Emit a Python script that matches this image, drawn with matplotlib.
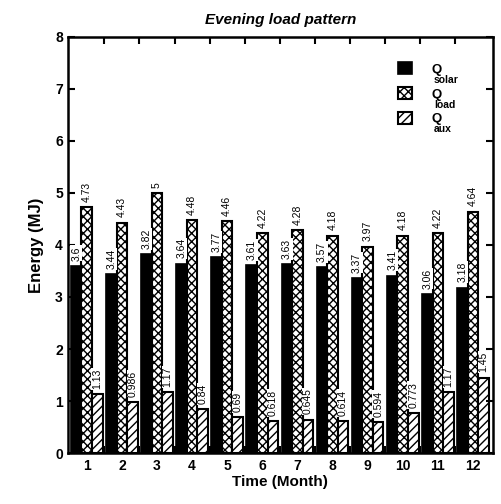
import matplotlib
matplotlib.use("Agg")
import matplotlib.pyplot as plt
import numpy as np

months = [1, 2, 3, 4, 5, 6, 7, 8, 9, 10, 11, 12]
q_solar = [3.6, 3.44, 3.82, 3.64, 3.77, 3.61, 3.63, 3.57, 3.37, 3.41, 3.06, 3.18]
q_load = [4.73, 4.43, 5, 4.48, 4.46, 4.22, 4.28, 4.18, 3.97, 4.18, 4.22, 4.64]
q_aux = [1.13, 0.986, 1.17, 0.84, 0.69, 0.618, 0.645, 0.614, 0.594, 0.773, 1.17, 1.45]
solar_lbl = ["3.6", "3.44", "3.82", "3.64", "3.77", "3.61", "3.63", "3.57", "3.37", "3.41", "3.06", "3.18"]
load_lbl = ["4.73", "4.43", "5", "4.48", "4.46", "4.22", "4.28", "4.18", "3.97", "4.18", "4.22", "4.64"]
aux_lbl = ["1.13", "0.986", "1.17", "0.84", "0.69", "0.618", "0.645", "0.614", "0.594", "0.773", "1.17", "1.45"]
series_subs = ["solar", "load", "aux"]

plt.rcParams['font.family'] = ['Liberation Sans', 'DejaVu Sans']
plt.rcParams['hatch.linewidth'] = 1.0

fig = plt.figure(figsize=(5.02, 5.04), dpi=100)
ax = fig.add_axes([0.135, 0.101, 0.847, 0.826])

x = np.array(months, dtype=float)
w = 0.3
b1 = ax.bar(x - w, q_solar, w, color='black', edgecolor='black', linewidth=1.2, label='Q')
b2 = ax.bar(x, q_load, w, color='white', edgecolor='black', hatch='xxxx', linewidth=1.5, label='Q')
b3 = ax.bar(x + w, q_aux, w, color='white', edgecolor='black', hatch='////', linewidth=1.5, label='Q')

for bars, lbls in [(b1, solar_lbl), (b2, load_lbl), (b3, aux_lbl)]:
    for r, t in zip(bars, lbls):
        ax.text(r.get_x() + r.get_width() / 2, r.get_height() + 0.1, t, rotation=90,
                ha='center', va='bottom', fontsize=7.5,
                bbox=dict(facecolor='white', edgecolor='none', pad=0.6))

ax.set_xlim(0.46, 12.57)
ax.set_ylim(0, 8)
ax.set_xticks(months)
ax.set_xticklabels([str(m) for m in months], fontweight='bold', fontsize=10)
ax.set_yticks(range(0, 9))
ax.set_yticklabels([str(v) for v in range(0, 9)], fontweight='bold', fontsize=10)
ax.tick_params(axis='x', length=0, pad=4)
ax.tick_params(axis='y', direction='in', length=5, width=1.5, right=True)
ax.set_xticks(np.arange(1.5, 12.5, 1.0), minor=True)
ax.tick_params(axis='x', which='minor', direction='in', length=5, width=1.5, top=True, bottom=True)
for s in ax.spines.values():
    s.set_linewidth(1.8)

ax.set_xlabel('Time (Month)', fontweight='bold', fontsize=11, labelpad=2)
ax.set_ylabel('Energy (MJ)', fontweight='bold', fontsize=12, labelpad=8)
ax.set_title('Evening load pattern', fontweight='bold', fontstyle='italic', fontsize=11, pad=9)

leg = ax.legend(loc='upper left', bbox_to_anchor=(0.765, 0.952), frameon=False,
                handlelength=1.05, handleheight=1.05, borderaxespad=0.0,
                labelspacing=0.85, handletextpad=1.5,
                prop={'weight': 'bold', 'size': 9.5})

fig.canvas.draw()
inv = fig.transFigure.inverted()
for txt, sub in zip(leg.get_texts(), series_subs):
    bb = txt.get_window_extent()
    px, py = bb.x0 + 0.2 * bb.width, bb.y0 + 1
    fx, fy = inv.transform((px, py))
    fig.text(fx, fy, sub, fontsize=7.5, fontweight='bold', ha='left', va='top')

fig.savefig('out.png', dpi=100)
